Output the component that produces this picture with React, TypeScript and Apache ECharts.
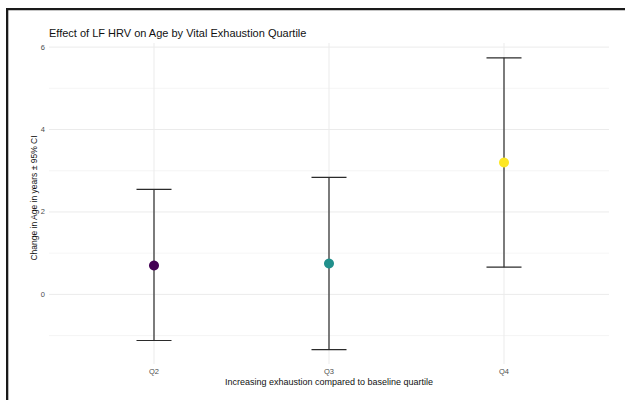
import React, { useEffect, useRef } from "react";
import * as echarts from "echarts";

const categories = ["Q2", "Q3", "Q4"];
const estimates = [0.7, 0.75, 3.2];
const lowerCI = [-1.12, -1.34, 0.66];
const upperCI = [2.55, 2.84, 5.74];
const pointColors = ["#440154", "#21908C", "#FDE725"];
const yMajorTicks = [0, 2, 4, 6];
const yMinorTicks = [-1, 1, 3, 5];
const xPositions = [1, 2, 3];

const titleText = "Effect of LF HRV on Age by Vital Exhaustion Quartile";
const xTitle = "Increasing exhaustion compared to baseline quartile";
const yTitle = "Change in Age in years ± 95% CI";

const FONT = "'Liberation Sans', Arial, Helvetica, sans-serif";

export default function App() {
  const ref = useRef<HTMLDivElement>(null);
  useEffect(() => {
    document.body.style.margin = "0";
    const chart = echarts.init(ref.current!, null, { renderer: "svg" });
    const gridLeft = 49;
    const gridTop = 43;
    const gridWidth = 560;
    const gridHeight = 321;

    const hGrid = [
      ...yMajorTicks.map((v) => ({ value: v, major: true })),
      ...yMinorTicks.map((v) => ({ value: v, major: false })),
    ];

    chart.setOption({
      animation: false,
      backgroundColor: "#ffffff",
      textStyle: { fontFamily: FONT },
      grid: { left: gridLeft, top: gridTop, width: gridWidth, height: gridHeight, containLabel: false },
      xAxis: {
        type: "value",
        min: 0.4,
        max: 3.6,
        splitLine: { show: false },
        axisLine: { show: false },
        axisTick: { show: false },
        axisLabel: {
          customValues: xPositions,
          formatter: (v: number) => categories[Math.round(v) - 1] ?? "",
          fontSize: 7.5,
          color: "#4d4d4d",
          margin: 3,
          fontFamily: FONT,
        },
      },
      yAxis: {
        type: "value",
        min: -1.69,
        max: 6.1,
        splitLine: { show: false },
        axisLine: { show: false },
        axisTick: { show: false },
        axisLabel: {
          customValues: yMajorTicks,
          fontSize: 7.5,
          color: "#4d4d4d",
          margin: 4,
          fontFamily: FONT,
        },
      },
      graphic: [
        { type: "rect", shape: { x: 6, y: 8, width: 625, height: 2.3 }, style: { fill: "#1a1a1a" }, z: 100 },
        { type: "rect", shape: { x: 6, y: 8, width: 2.3, height: 400 }, style: { fill: "#1a1a1a" }, z: 100 },
        {
          type: "text",
          x: 49,
          y: 32.7,
          style: { text: titleText, fontSize: 11, fill: "#111", fontFamily: FONT, align: "left", verticalAlign: "middle" },
        },
        {
          type: "text",
          x: 329,
          y: 381.8,
          style: { text: xTitle, fontSize: 9, fill: "#111", fontFamily: FONT, align: "center", verticalAlign: "middle" },
        },
        {
          type: "text",
          x: 34.3,
          y: 198,
          rotation: Math.PI / 2,
          style: { text: yTitle, fontSize: 8.5, fill: "#111", fontFamily: FONT, align: "center", verticalAlign: "middle" },
        },
      ],
      series: [
        {
          type: "custom",
          name: "hgrid",
          silent: true,
          z: 1,
          clip: false,
          data: hGrid.map((g) => [g.value, g.major ? 1 : 0]),
          renderItem: (params: any, api: any) => {
            const cs = params.coordSys;
            const p = api.coord([1, api.value(0)]);
            const major = api.value(1) === 1;
            return {
              type: "line",
              shape: { x1: cs.x, y1: p[1], x2: cs.x + cs.width, y2: p[1] },
              style: { stroke: major ? "#ebebeb" : "#f2f2f2", lineWidth: major ? 1 : 0.8 },
            };
          },
        },
        {
          type: "custom",
          name: "vgrid",
          silent: true,
          z: 1,
          clip: false,
          data: xPositions.map((x) => [x]),
          renderItem: (params: any, api: any) => {
            const cs = params.coordSys;
            const p = api.coord([api.value(0), 0]);
            return {
              type: "line",
              shape: { x1: p[0], y1: cs.y, x2: p[0], y2: cs.y + cs.height },
              style: { stroke: "#ebebeb", lineWidth: 1 },
            };
          },
        },
        {
          type: "custom",
          name: "errorbars",
          z: 3,
          data: categories.map((_, i) => [xPositions[i], lowerCI[i], upperCI[i]]),
          renderItem: (params: any, api: any) => {
            const lo = api.coord([api.value(0), api.value(1)]);
            const hi = api.coord([api.value(0), api.value(2)]);
            const half = 17.5;
            const st = { stroke: "#2b2b2b", lineWidth: 1.2 };
            return {
              type: "group",
              children: [
                { type: "line", shape: { x1: lo[0], y1: lo[1], x2: hi[0], y2: hi[1] }, style: st },
                { type: "line", shape: { x1: hi[0] - half, y1: hi[1], x2: hi[0] + half, y2: hi[1] }, style: st },
                { type: "line", shape: { x1: lo[0] - half, y1: lo[1], x2: lo[0] + half, y2: lo[1] }, style: st },
              ],
            };
          },
        },
        {
          type: "scatter",
          name: "estimate",
          z: 5,
          symbolSize: 10,
          data: estimates.map((v, i) => ({ value: [xPositions[i], v], itemStyle: { color: pointColors[i], opacity: 1 } })),
        },
      ],
    });
    return () => chart.dispose();
  }, []);
  return <div ref={ref} style={{ width: 625, height: 400, position: "absolute", left: 0, top: 0 }} />;
}
